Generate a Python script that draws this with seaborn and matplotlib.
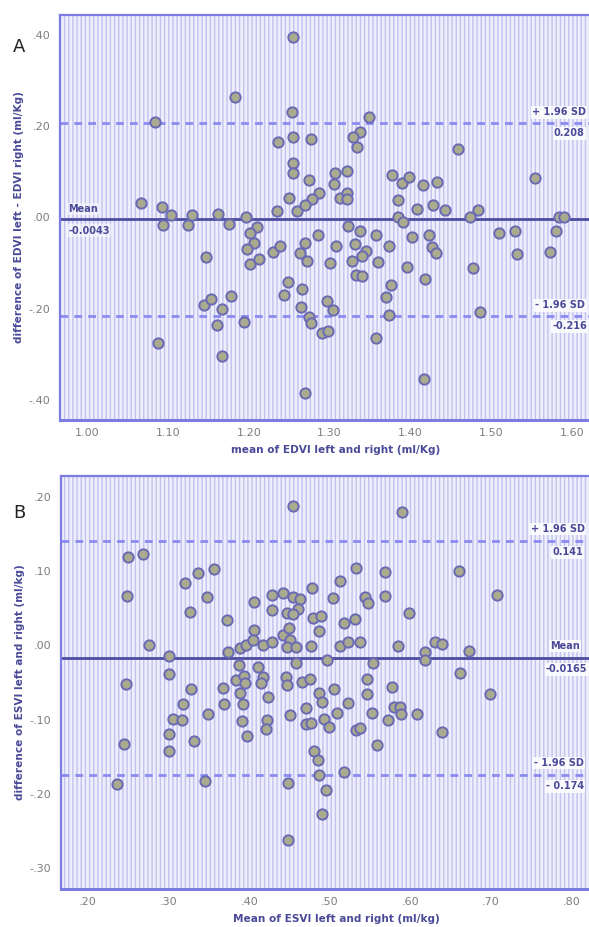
import numpy as np
import pandas as pd
import matplotlib
matplotlib.use("Agg")
import matplotlib.pyplot as plt
from matplotlib.patches import Rectangle
from matplotlib.ticker import FuncFormatter, MultipleLocator
import seaborn as sns

# EDVI (panel A): mean of left/right and difference left - right
edvi_mean = [1.066, 1.084, 1.093, 1.103, 1.094, 1.129, 1.124, 1.162, 1.176, 1.183,
             1.196, 1.210, 1.236, 1.254, 1.255, 1.255, 1.255, 1.255, 1.250, 1.235,
             1.260, 1.349, 1.338, 1.329, 1.334, 1.277, 1.459, 1.274, 1.307, 1.322,
             1.306, 1.287, 1.278, 1.269, 1.313, 1.322, 1.322, 1.377, 1.390, 1.398,
             1.416, 1.433, 1.385, 1.408, 1.428, 1.443, 1.484, 1.474, 1.554, 1.584,
             1.591, 1.385, 1.391, 1.202, 1.207, 1.198, 1.202, 1.212, 1.230, 1.239,
             1.147, 1.144, 1.153, 1.178, 1.167, 1.161, 1.194, 1.087, 1.167, 1.249,
             1.243, 1.265, 1.264, 1.270, 1.286, 1.270, 1.272, 1.308, 1.301, 1.323,
             1.338, 1.332, 1.328, 1.345, 1.340, 1.358, 1.374, 1.360, 1.333, 1.340,
             1.402, 1.423, 1.427, 1.432, 1.396, 1.418, 1.478, 1.510, 1.530, 1.532,
             1.580, 1.573, 1.266, 1.274, 1.277, 1.291, 1.298, 1.297, 1.304, 1.376,
             1.370, 1.374, 1.358, 1.417, 1.486]
edvi_diff = [0.032, 0.209, 0.023, 0.005, -0.016, 0.005, -0.016, 0.008, -0.014, 0.264,
             0.001, -0.020, 0.166, 0.232, 0.396, 0.177, 0.120, 0.098, 0.043, 0.014,
             0.014, 0.220, 0.188, 0.176, 0.155, 0.172, 0.150, 0.082, 0.097, 0.102,
             0.073, 0.054, 0.040, 0.027, 0.043, 0.053, 0.040, 0.093, 0.076, 0.089,
             0.071, 0.078, 0.038, 0.018, 0.027, 0.016, 0.016, 0.001, 0.086, 0.000,
             0.000, 0.001, -0.010, -0.034, -0.056, -0.069, -0.102, -0.091, -0.076, -0.063,
             -0.087, -0.192, -0.179, -0.172, -0.201, -0.236, -0.229, -0.275, -0.304, -0.142,
             -0.170, -0.197, -0.078, -0.385, -0.038, -0.056, -0.095, -0.063, -0.100, -0.019,
             -0.029, -0.058, -0.095, -0.073, -0.084, -0.038, -0.063, -0.097, -0.126, -0.128,
             -0.042, -0.038, -0.064, -0.078, -0.109, -0.135, -0.111, -0.033, -0.030, -0.080,
             -0.030, -0.076, -0.157, -0.218, -0.231, -0.253, -0.249, -0.183, -0.203, -0.148,
             -0.174, -0.214, -0.264, -0.356, -0.207]
edvi_mean_diff = -0.0043
edvi_upper = 0.208
edvi_lower = -0.216

# ESVI (panel B)
esvi_mean = [0.454, 0.250, 0.268, 0.248, 0.276, 0.300, 0.300, 0.247, 0.328, 0.320,
             0.336, 0.356, 0.347, 0.326, 0.372, 0.374, 0.367, 0.387, 0.383, 0.393,
             0.395, 0.388, 0.388, 0.396, 0.406, 0.405, 0.406, 0.417, 0.428, 0.428,
             0.428, 0.442, 0.454, 0.447, 0.442, 0.449, 0.450, 0.447, 0.458, 0.458,
             0.411, 0.417, 0.414, 0.445, 0.447, 0.423, 0.318, 0.305, 0.316, 0.349,
             0.300, 0.300, 0.331, 0.245, 0.236, 0.345, 0.369, 0.392, 0.391, 0.397,
             0.422, 0.421, 0.450, 0.448, 0.448, 0.463, 0.478, 0.513, 0.504, 0.544,
             0.547, 0.569, 0.598, 0.461, 0.454, 0.479, 0.489, 0.487, 0.518, 0.531,
             0.476, 0.513, 0.523, 0.537, 0.585, 0.496, 0.553, 0.466, 0.475, 0.486,
             0.490, 0.505, 0.523, 0.546, 0.546, 0.577, 0.579, 0.587, 0.588, 0.608,
             0.552, 0.572, 0.509, 0.470, 0.470, 0.476, 0.493, 0.499, 0.532, 0.538,
             0.559, 0.480, 0.485, 0.486, 0.518, 0.639, 0.699, 0.495, 0.490, 0.590,
             0.533, 0.568, 0.660, 0.707, 0.631, 0.639, 0.673, 0.618, 0.618, 0.662]
esvi_diff = [0.187, 0.119, 0.123, 0.067, 0.000, -0.014, -0.038, -0.052, -0.059, 0.084,
             0.098, 0.103, 0.065, 0.045, 0.034, -0.009, -0.058, -0.027, -0.046, -0.041,
             -0.051, -0.064, -0.004, 0.000, 0.021, 0.007, 0.058, 0.000, 0.005, 0.048,
             0.068, 0.070, 0.065, 0.043, 0.014, 0.023, 0.007, -0.002, -0.002, -0.024,
             -0.029, -0.042, -0.050, -0.042, -0.053, -0.069, -0.079, -0.099, -0.100, -0.092,
             -0.119, -0.142, -0.129, -0.133, -0.187, -0.183, -0.079, -0.079, -0.102, -0.122,
             -0.100, -0.112, -0.094, -0.185, -0.262, 0.063, 0.077, 0.087, 0.064, 0.065,
             0.057, 0.067, 0.043, 0.049, 0.042, 0.037, 0.040, 0.020, 0.030, 0.035,
             -0.001, -0.001, 0.005, 0.005, -0.001, -0.020, -0.024, -0.049, -0.045, -0.064,
             -0.076, -0.059, -0.077, -0.045, -0.065, -0.056, -0.083, -0.083, -0.093, -0.092,
             -0.091, -0.100, -0.091, -0.084, -0.106, -0.104, -0.099, -0.110, -0.114, -0.111,
             -0.134, -0.142, -0.154, -0.174, -0.170, -0.117, -0.065, -0.195, -0.227, 0.180,
             0.104, 0.099, 0.100, 0.068, 0.005, 0.002, -0.008, -0.009, -0.020, -0.037]
esvi_mean_diff = -0.0165
esvi_upper = 0.141
esvi_lower = -0.174

sns.set_style("white")
plt.rcParams['font.family'] = ['DejaVu Sans']

spine_col = '#7c7ce2'
text_col = '#4a4a98'
tick_col = '#7d7d7d'


def spss_fmt(v, pos):
    s = f"{v:.2f}"
    if s.startswith("0."):
        s = s[1:]
    elif s.startswith("-0."):
        s = "-" + s[2:]
    if s == "-.00":
        s = ".00"
    return s


def style_axes(ax):
    ax.add_patch(Rectangle((0, 0), 1, 1, transform=ax.transAxes, facecolor='#efeffb',
                           edgecolor='#c2c2f0', hatch='||||', lw=0, zorder=0))
    for side in ['left', 'top', 'right']:
        ax.spines[side].set_color(spine_col)
        ax.spines[side].set_linewidth(1.6)
    ax.spines['bottom'].set_color(spine_col)
    ax.spines['bottom'].set_linewidth(2.2)
    ax.tick_params(axis='y', which='major', direction='out', length=6, width=1.5,
                   color=text_col, labelcolor=tick_col, labelsize=8, pad=1)
    ax.tick_params(axis='y', which='minor', direction='out', length=3, width=1,
                   color=spine_col)
    ax.tick_params(axis='x', which='major', direction='in', length=6, width=1.8,
                   color=text_col, labelcolor=tick_col, labelsize=8, pad=6)
    ax.tick_params(axis='x', which='minor', direction='in', length=3, width=1,
                   color=text_col)
    ax.yaxis.set_major_formatter(FuncFormatter(spss_fmt))
    ax.xaxis.set_major_formatter(FuncFormatter(spss_fmt))


def draw_panel(ax, x, y, mean_d, up, lo):
    df = pd.DataFrame({'m': x, 'd': y})
    ax.axhline(up, color='#8a8af2', lw=2, dashes=(2.8, 2.2), zorder=2)
    ax.axhline(lo, color='#8a8af2', lw=2, dashes=(2.8, 2.2), zorder=2)
    ax.axhline(mean_d, color='#4c4ca0', lw=2, zorder=2)
    sns.scatterplot(data=df, x='m', y='d', ax=ax, s=55, color='#a9aa8e',
                    edgecolor='#6a6ab4', linewidth=1.4, zorder=3, legend=False)


fig = plt.figure(figsize=(5.89, 9.27), dpi=100)
ax1 = fig.add_axes([60 / 589, 1 - 420 / 927, (612 - 60) / 589, (420 - 15) / 927])
ax2 = fig.add_axes([61 / 589, 1 - 889 / 927, (612 - 61) / 589, (889 - 476) / 927])

# Panel A
draw_panel(ax1, edvi_mean, edvi_diff, edvi_mean_diff, edvi_upper, edvi_lower)
style_axes(ax1)
ax1.set_xlim(0.966, 1.65)
ax1.set_ylim(-0.445, 0.445)
ax1.set_xticks([1.0, 1.1, 1.2, 1.3, 1.4, 1.5, 1.6])
ax1.xaxis.set_major_formatter(FuncFormatter(lambda v, p: f"{v:.2f}"))
ax1.xaxis.set_minor_locator(MultipleLocator(0.05))
ax1.set_yticks([-0.4, -0.2, 0.0, 0.2, 0.4])
ax1.yaxis.set_minor_locator(MultipleLocator(0.1))
ax1.set_xlabel('mean of EDVI left and right (ml/Kg)', fontsize=7.6, fontweight='bold',
               color=text_col, labelpad=5)
ax1.set_ylabel('difference of EDVI left - EDVI right (ml/Kg)', fontsize=7.6,
               fontweight='bold', color=text_col, labelpad=3)

lab = dict(fontsize=7.0, fontweight='bold', color=text_col, zorder=4,
           bbox=dict(facecolor='white', edgecolor='none', alpha=0.85, pad=1.0))
ax1.text(1.551, edvi_upper + 0.012, '+ 1.96 SD', va='bottom', ha='left', **lab)
ax1.text(1.578, edvi_upper - 0.012, f'{edvi_upper:.3f}', va='top', ha='left', **lab)
ax1.text(1.555, edvi_lower + 0.012, '- 1.96 SD', va='bottom', ha='left', **lab)
ax1.text(1.576, edvi_lower - 0.012, f'{edvi_lower:.3f}', va='top', ha='left', **lab)
lab_m = dict(lab)
lab_m['bbox'] = dict(facecolor='white', edgecolor='none', alpha=0.5, pad=1.0)
ax1.text(0.976, edvi_mean_diff + 0.012, 'Mean', va='bottom', ha='left', **lab_m)
ax1.text(0.976, edvi_mean_diff - 0.014, f'{edvi_mean_diff:.4f}', va='top', ha='left', **lab_m)

# Panel B
draw_panel(ax2, esvi_mean, esvi_diff, esvi_mean_diff, esvi_upper, esvi_lower)
style_axes(ax2)
ax2.set_xlim(0.1665, 0.85)
ax2.set_ylim(-0.328, 0.228)
ax2.set_xticks([0.2, 0.3, 0.4, 0.5, 0.6, 0.7, 0.8])
ax2.xaxis.set_minor_locator(MultipleLocator(0.05))
ax2.set_yticks([-0.3, -0.2, -0.1, 0.0, 0.1, 0.2])
ax2.yaxis.set_minor_locator(MultipleLocator(0.05))
ax2.set_xlabel('Mean of ESVI left and right (ml/kg)', fontsize=7.6, fontweight='bold',
               color=text_col, labelpad=5)
ax2.set_ylabel('difference of ESVI left and right (ml/kg)', fontsize=7.6,
               fontweight='bold', color=text_col, labelpad=3)

ax2.text(0.749, esvi_upper + 0.009, '+ 1.96 SD', va='bottom', ha='left', **lab)
ax2.text(0.776, esvi_upper - 0.009, f'{esvi_upper:.3f}', va='top', ha='left', **lab)
ax2.text(0.773, esvi_mean_diff + 0.009, 'Mean', va='bottom', ha='left', **lab)
ax2.text(0.768, esvi_mean_diff - 0.009, f'{esvi_mean_diff:.4f}', va='top', ha='left', **lab)
ax2.text(0.753, esvi_lower + 0.009, '- 1.96 SD', va='bottom', ha='left', **lab)
ax2.text(0.768, esvi_lower - 0.009, f'- {abs(esvi_lower):.3f}', va='top', ha='left', **lab)

fig.text(19 / 589, 1 - 47 / 927, 'A', fontsize=13, color='#222222', ha='center', va='center')
fig.text(19 / 589, 1 - 513 / 927, 'B', fontsize=13, color='#222222', ha='center', va='center')

plt.savefig('out.png', dpi=100)
